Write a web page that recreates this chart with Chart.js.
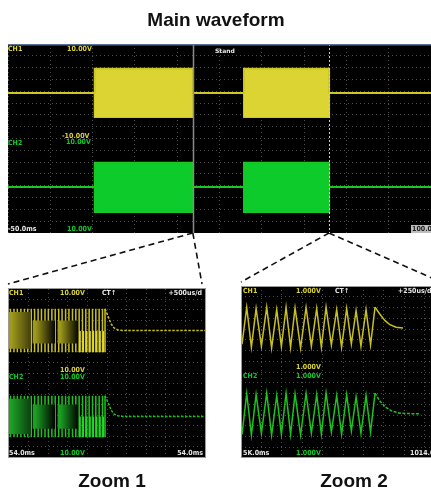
<!DOCTYPE html>
<html><head><meta charset="utf-8">
<script src="https://cdn.jsdelivr.net/npm/chart.js@4.4.0/dist/chart.umd.min.js"></script>
<style>
html,body{margin:0;padding:0;background:#fff;width:431px;height:492px;overflow:hidden;position:relative;font-family:'Liberation Sans',Arial,sans-serif}
.title{position:absolute;font-size:19px;font-weight:bold;line-height:20px;color:#111;text-align:center;white-space:nowrap}
canvas{position:absolute;display:block}
</style></head><body>
<canvas id="links" width="431" height="492" style="left:0;top:0"></canvas>
<div class="title" style="left:116px;top:10px;width:200px">Main waveform</div>
<canvas id="main" width="423" height="189" style="left:8px;top:44px;background:#000"></canvas>
<canvas id="zoom1" width="198" height="170" style="left:8px;top:288px;background:#000"></canvas>
<canvas id="zoom2" width="204" height="172" style="left:241px;top:286px;background:#000"></canvas>
<div class="title" style="left:12px;top:471px;width:200px">Zoom 1</div>
<div class="title" style="left:254px;top:471px;width:200px">Zoom 2</div>
<script>
// ---------------- DATA ----------------
// Main waveform: time (ms, 0..100 across screen), amplitude in divisions (0..8)
const mainTime   = [0, 20.5, 20.5, 43.7, 43.7, 55.8, 55.8, 75.9, 75.9, 100];
const mainCh1Top = [5.93, 5.93, 6.95, 6.95, 5.93, 5.93, 6.95, 6.95, 5.93, 5.93];
const mainCh1Bot = [5.93, 5.93, 4.91, 4.91, 5.93, 5.93, 4.91, 4.91, 5.93, 5.93];
const mainCh2Top = [1.95, 1.95, 2.97, 2.97, 1.95, 1.95, 2.97, 2.97, 1.95, 1.95];
const mainCh2Bot = [1.95, 1.95, 0.89, 0.89, 1.95, 1.95, 0.89, 0.89, 1.95, 1.95];
const zoomMarkers = [43.7, 75.9];

// Zoom 1: burst end (aliased stripes), time 0..100 across screen
const z1StripeT = [0.8, 2.6, 4.3, 6.1, 7.9, 9.6, 11.4, 13.1, 14.9, 16.6, 18.4, 20.1, 21.9, 23.6, 25.4,
                   27.1, 28.9, 30.6, 32.4, 34.1, 35.8, 37.5, 39.2, 40.9, 42.6, 44.3, 46.0, 47.7, 49.0];
const z1Ch1Env = [4.99, 7.06];
const z1Ch2Env = [0.94, 2.92];
// brighter lower-half stripes at the end of the burst
const z1LowStripeT = [36.2, 37.9, 39.6, 41.3, 43.0, 44.7, 46.4, 48.1];
const z1Ch1LowEnv = [4.99, 6.0];
const z1Ch2LowEnv = [0.94, 1.93];
const z1BlockStart = [0, 12, 24.7];
const z1BlockEnd   = [11.2, 23.6, 35.4];
const z1Ch1BlockLo = [5.15, 5.4, 5.4];
const z1Ch1BlockHi = [6.9, 6.5, 6.5];
const z1Ch2BlockLo = [1.1, 1.35, 1.35];
const z1Ch2BlockHi = [2.78, 2.5, 2.5];
const z1TailT   = [49, 50.5, 52, 53.5, 55.5, 58, 100];
const z1Ch1Tail = [7.05, 6.7, 6.35, 6.15, 6.05, 6.02, 6.02];
const z1Ch2Tail = [2.92, 2.6, 2.25, 2.05, 1.97, 1.93, 1.93];

// Zoom 2: oscillation and decay, time 0..100 across screen
const z2T   = [0.5, 2.8, 5.1, 7.4, 10.0, 12.6, 15.0, 17.5, 19.8, 22.1, 24.3, 26.5, 29.2, 31.9, 34.5, 37.1,
               39.4, 41.7, 44.3, 46.9, 49.3, 51.8, 54.1, 56.4, 58.8, 61.3, 63.5, 65.7];
const z2Ch1 = [5.3, 7.0, 5.15, 6.95, 5.2, 7.02, 5.12, 6.9, 5.18, 7.0, 5.15, 6.98, 5.12, 7.0, 5.2, 6.95,
               5.15, 7.02, 5.25, 6.9, 5.15, 6.95, 5.3, 6.85, 5.2, 6.9, 5.25, 7.02];
const z2Ch2 = [1.1, 3.0, 1.07, 2.95, 1.15, 3.02, 1.07, 2.9, 1.1, 3.0, 1.1, 2.98, 1.07, 3.0, 1.15, 2.95,
               1.1, 3.02, 1.2, 2.9, 1.1, 2.95, 1.25, 2.85, 1.15, 2.9, 1.2, 3.02];
const z2Ch1TailT = [65.7, 68, 70.5, 73, 76, 79.4];
const z2Ch1Tail  = [7.02, 6.7, 6.4, 6.2, 6.08, 6.05];
const z2Ch2TailT = [65.7, 68, 71, 74, 78, 88];
const z2Ch2Tail  = [3.02, 2.65, 2.35, 2.18, 2.08, 2.05];

// ---------------- STYLE ----------------
const Y_FILL = '#dbd432', Y_LINE = '#cfc824', Y_TRACE = '#c8c020';
const G_FILL = '#0dcb2a', G_LINE = '#19c81e', G_TRACE = '#1ec21e';
const WHITE = '#e8e8e8';
const LABEL_FONT = 'bold 7px "DejaVu Sans Condensed", "DejaVu Sans", sans-serif';
const Y_BLOCK_END = ['rgb(70,66,12)', 'rgb(6,6,0)', 'rgb(6,6,0)'];
const G_BLOCK_END = ['rgb(12,66,16)', 'rgb(0,6,0)', 'rgb(0,6,0)'];

const pts = (xs, ys) => xs.map((x, i) => ({x, y: ys[i]}));
function stripes(times, env) {
  const out = [];
  times.forEach(t => { out.push({x: t, y: env[0]}, {x: t, y: env[1]}, {x: t, y: null}); });
  return out;
}
function scale(min, max, step, axis) {
  return {
    type: 'linear', min, max,
    ticks: {display: false, stepSize: step},
    grid: {color: '#4d4d4d', lineWidth: 1, drawTicks: false},
    border: {display: false, dash: [1, 3]},
    afterFit(s) { if (axis === 'x') s.height = 0; else s.width = 0; }
  };
}

const scopeText = {
  id: 'scopeText',
  afterDatasetsDraw(chart, args, opts) {
    const ctx = chart.ctx, a = chart.chartArea;
    ctx.save();
    (opts.markers || []).forEach((m) => {
      const px = Math.round(chart.scales.x.getPixelForValue(m.t)) + 0.5;
      ctx.strokeStyle = m.color; ctx.lineWidth = m.width;
      ctx.setLineDash(m.dash || []);
      ctx.beginPath(); ctx.moveTo(px, a.top); ctx.lineTo(px, a.bottom); ctx.stroke();
    });
    ctx.setLineDash([]);
    if (opts.topBorder) {
      ctx.fillStyle = opts.topBorder; ctx.fillRect(0, 0, chart.width, 1.5);
    }
    if (opts.frame) {
      ctx.strokeStyle = opts.frame; ctx.lineWidth = 1;
      ctx.strokeRect(0.5, 0.5, chart.width - 1, chart.height - 1);
    }
    ctx.textBaseline = 'top';
    for (const l of opts.items || []) {
      ctx.font = l.font || LABEL_FONT;
      ctx.textAlign = l.align || 'left';
      if (l.bg) {
        const w = ctx.measureText(l.text).width;
        const x0 = l.align === 'right' ? l.x - w : l.x;
        ctx.fillStyle = l.bg; ctx.fillRect(x0 - 1, l.y - 1, w + 2, 8);
      }
      ctx.fillStyle = l.color;
      ctx.fillText(l.text, l.x, l.y);
    }
    ctx.restore();
  }
};

const baseOpts = (xMax, plug) => ({
  responsive: false, animation: false, maintainAspectRatio: false,
  layout: {padding: 0},
  elements: {point: {radius: 0}, line: {tension: 0}},
  scales: {x: scale(0, xMax, 10, 'x'), y: scale(0, 8, 0.5, 'y')},
  plugins: {legend: {display: false}, tooltip: {enabled: false}, title: {display: false}, scopeText: plug}
});

// ---------------- MAIN ----------------
const mainChart = new Chart(document.getElementById('main'), {
  type: 'line',
  data: {datasets: [
    {data: pts(mainTime, mainCh1Top), borderColor: Y_LINE, borderWidth: 2, backgroundColor: Y_FILL, fill: '+1'},
    {data: pts(mainTime, mainCh1Bot), borderColor: Y_LINE, borderWidth: 2, fill: false},
    {data: pts(mainTime, mainCh2Top), borderColor: G_LINE, borderWidth: 2, backgroundColor: G_FILL, fill: '+1'},
    {data: pts(mainTime, mainCh2Bot), borderColor: G_LINE, borderWidth: 2, fill: false}
  ]},
  options: baseOpts(100, {
    topBorder: '#5a7090',
    markers: [
      {t: zoomMarkers[0], color: '#8a8a8a', width: 1.5},
      {t: zoomMarkers[1], color: '#cfcfcf', width: 1, dash: [2, 2]}
    ],
    items: [
      {text: 'CH1', x: 0, y: 2, color: Y_FILL},
      {text: '10.00V', x: 59, y: 2, color: Y_FILL},
      {text: 'Stand', x: 207, y: 4, color: WHITE, font: 'bold 6px "DejaVu Sans", sans-serif'},
      {text: '-10.00V', x: 54, y: 89, color: Y_FILL},
      {text: 'CH2', x: 0, y: 96, color: G_FILL},
      {text: '10.00V', x: 58, y: 95, color: G_FILL},
      {text: '-50.0ms', x: 0, y: 182, color: WHITE},
      {text: '10.00V', x: 59, y: 182, color: G_FILL},
      {text: '100.0ms', x: 404, y: 182, color: '#222', bg: '#bdbdbd'}
    ]
  }),
  plugins: [scopeText]
});

// ---------------- ZOOM helpers ----------------
function blockSets(starts, ends, los, his, light, endColors) {
  return starts.map((s, i) => ({
    data: [{x: s, y: his[i]}, {x: ends[i], y: his[i]}],
    borderWidth: 0, borderColor: 'rgba(0,0,0,0)', order: 2,
    fill: {value: los[i]},
    backgroundColor: light,
    _grad: {s, e: ends[i], light, dark: endColors[i]}
  }));
}
function applyGradients(chart) {
  const xs = chart.scales.x;
  chart.data.datasets.forEach(ds => {
    if (!ds._grad) return;
    const g = chart.ctx.createLinearGradient(xs.getPixelForValue(ds._grad.s), 0, xs.getPixelForValue(ds._grad.e), 0);
    g.addColorStop(0, ds._grad.light);
    g.addColorStop(0.15, ds._grad.light);
    g.addColorStop(1, ds._grad.dark);
    ds.backgroundColor = g;
  });
  chart.update();
}

// ---------------- ZOOM 1 ----------------
const zoom1Chart = new Chart(document.getElementById('zoom1'), {
  type: 'line',
  data: {datasets: [
    {data: pts(z1TailT, z1Ch1Tail), borderColor: Y_TRACE, borderWidth: 1.5, borderDash: [2.5, 1.5], fill: false, order: 1},
    {data: pts(z1TailT, z1Ch2Tail), borderColor: G_TRACE, borderWidth: 1.5, borderDash: [2.5, 1.5], fill: false, order: 1},
    {data: stripes(z1LowStripeT, z1Ch1LowEnv), borderColor: '#e0d830', borderWidth: 1.8, spanGaps: false, fill: false, order: 1},
    {data: stripes(z1LowStripeT, z1Ch2LowEnv), borderColor: '#22d82a', borderWidth: 1.8, spanGaps: false, fill: false, order: 1},
    {data: stripes(z1StripeT, z1Ch1Env), borderColor: Y_TRACE, borderWidth: 1.5, spanGaps: false, fill: false, order: 3},
    {data: stripes(z1StripeT, z1Ch2Env), borderColor: G_TRACE, borderWidth: 1.5, spanGaps: false, fill: false, order: 3},
    ...blockSets(z1BlockStart, z1BlockEnd, z1Ch1BlockLo, z1Ch1BlockHi, 'rgb(160,154,28)', Y_BLOCK_END),
    ...blockSets(z1BlockStart, z1BlockEnd, z1Ch2BlockLo, z1Ch2BlockHi, 'rgb(28,160,36)', G_BLOCK_END)
  ]},
  options: baseOpts(100, {
    frame: '#9a9a9a',
    items: [
      {text: 'CH1', x: 1, y: 2, color: Y_FILL},
      {text: '10.00V', x: 52, y: 2, color: Y_FILL},
      {text: 'CT↑', x: 94, y: 2, color: WHITE},
      {text: '+500us/d', x: 194, y: 2, color: WHITE, align: 'right'},
      {text: '10.00V', x: 52, y: 79, color: Y_FILL},
      {text: 'CH2', x: 1, y: 86, color: G_FILL},
      {text: '10.00V', x: 52, y: 86, color: G_FILL},
      {text: '54.0ms', x: 1, y: 162, color: WHITE},
      {text: '10.00V', x: 52, y: 162, color: G_FILL},
      {text: '54.0ms', x: 195, y: 162, color: WHITE, align: 'right'}
    ]
  }),
  plugins: [scopeText]
});
applyGradients(zoom1Chart);

// ---------------- ZOOM 2 ----------------
new Chart(document.getElementById('zoom2'), {
  type: 'line',
  data: {datasets: [
    {data: pts(z2T, z2Ch1), borderColor: Y_TRACE, borderWidth: 1.5, fill: false},
    {data: pts(z2Ch1TailT, z2Ch1Tail), borderColor: Y_TRACE, borderWidth: 1.5, fill: false},
    {data: pts(z2T, z2Ch2), borderColor: G_TRACE, borderWidth: 1.5, fill: false},
    {data: pts(z2Ch2TailT, z2Ch2Tail), borderColor: G_TRACE, borderWidth: 1.5, borderDash: [3, 1.5], fill: false}
  ]},
  options: baseOpts(100, {
    frame: '#9a9a9a',
    items: [
      {text: 'CH1', x: 2, y: 2, color: Y_FILL},
      {text: '1.000V', x: 55, y: 2, color: Y_FILL},
      {text: 'CT↑', x: 94, y: 2, color: WHITE},
      {text: '+250us/d', x: 157, y: 2, color: WHITE},
      {text: '1.000V', x: 55, y: 78, color: Y_FILL},
      {text: 'CH2', x: 2, y: 87, color: G_FILL},
      {text: '1.000V', x: 55, y: 87, color: G_FILL},
      {text: '5K.0ms', x: 2, y: 164, color: WHITE},
      {text: '1.000V', x: 55, y: 164, color: G_FILL},
      {text: '1014.0', x: 169, y: 164, color: WHITE}
    ]
  }),
  plugins: [scopeText]
});

// ---------------- CONNECTORS ----------------
(function () {
  const lc = document.getElementById('links').getContext('2d');
  const mainEl = document.getElementById('main');
  const xs = mainChart.scales.x;
  const y0 = mainEl.offsetTop + mainChart.chartArea.bottom;
  const panels = [document.getElementById('zoom1'), document.getElementById('zoom2')];
  lc.strokeStyle = '#111'; lc.lineWidth = 1.6; lc.setLineDash([6, 4]);
  zoomMarkers.forEach((t, i) => {
    const x0 = mainEl.offsetLeft + xs.getPixelForValue(t);
    const p = panels[i];
    const yT = p.offsetTop - 4;
    lc.beginPath(); lc.moveTo(x0, y0); lc.lineTo(p.offsetLeft, yT); lc.stroke();
    lc.beginPath(); lc.moveTo(x0, y0); lc.lineTo(p.offsetLeft + p.width - 4, yT); lc.stroke();
  });
})();
</script>
</body></html>
